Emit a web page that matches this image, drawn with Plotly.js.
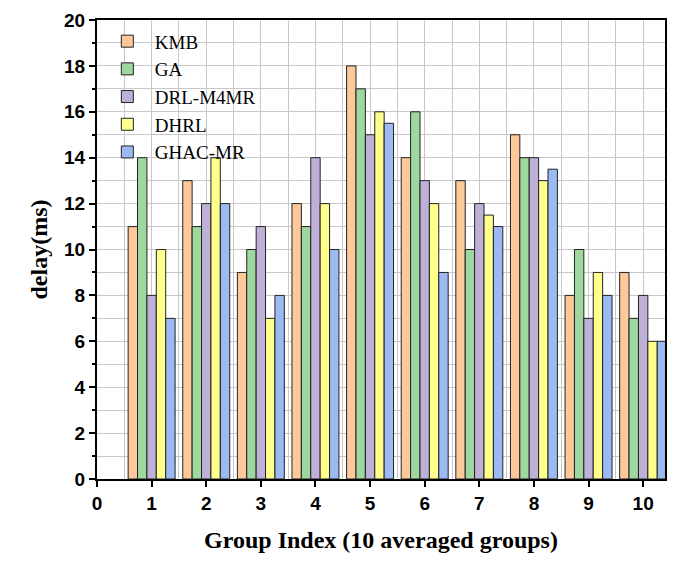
<!DOCTYPE html>
<html><head><meta charset="utf-8">
<script src="https://cdn.plot.ly/plotly-3.0.1.min.js"></script>
<style>body{margin:0;background:#fff}</style>
</head><body>
<div id="chart" style="width:675px;height:569px"></div>
<script>
const groups = [1, 2, 3, 4, 5, 6, 7, 8, 9, 10];
const methods = ['KMB', 'GA', 'DRL-M4MR', 'DHRL', 'GHAC-MR'];
const colors = ['#FDC89A', '#9ED89E', '#BFB0D8', '#FFFF8C', '#9CBAF2'];
const kmb  = [11, 13, 9, 12, 18, 14, 13, 15, 8, 9];
const ga   = [14, 11, 10, 11, 17, 16, 10, 14, 10, 7];
const drl  = [8, 12, 11, 14, 15, 13, 12, 14, 7, 8];
const dhrl = [10, 14, 7, 12, 16, 12, 11.5, 13, 9, 6];
const ghac = [7, 12, 8, 10, 15.5, 9, 11, 13.5, 8, 6];
const series = [kmb, ga, drl, dhrl, ghac];
const xTicks = [0, 1, 2, 3, 4, 5, 6, 7, 8, 9, 10];

const traces = series.map((vals, i) => ({
    type: 'bar', name: methods[i], x: groups, y: vals,
    marker: { color: colors[i], line: { color: '#222', width: 1 } },
}));

const axisFont = { family: 'Liberation Sans, Arial', size: 19, color: '#000', weight: 'bold' };
Plotly.newPlot('chart', traces, {
    width: 675, height: 569,
    margin: { l: 97, r: 10, t: 20, b: 90 },
    paper_bgcolor: '#fff', plot_bgcolor: '#fff',
    barmode: 'group', bargap: 0.14, bargroupgap: 0,
    showlegend: true,
    legend: {
        x: 0.005, y: 0.995, xanchor: 'left', yanchor: 'top',
        bgcolor: 'rgba(0,0,0,0)', tracegroupgap: 0,
        font: { family: 'Liberation Serif, serif', size: 19, color: '#000' },
        itemwidth: 45,
    },
    xaxis: {
        range: [0, 10.4], tickvals: xTicks, ticktext: xTicks.map(String),
        tickfont: axisFont,
        ticks: 'outside', ticklen: 6, tickwidth: 1.5, tickcolor: '#000',
        showline: true, linecolor: '#000', linewidth: 2, mirror: true,
        showgrid: true, gridcolor: '#c8c8c8',
        minor: { dtick: 0.5, tick0: 0, showgrid: true, gridcolor: '#c8c8c8' },
        zeroline: false,
        title: { text: '<b>Group Index (10 averaged groups)</b>', font: { family: 'Liberation Serif, serif', size: 24, color: '#000' }, standoff: 18 },
    },
    yaxis: {
        range: [0, 20], dtick: 2,
        tickfont: axisFont,
        ticks: 'outside', ticklen: 6, tickwidth: 1.5, tickcolor: '#000',
        showline: true, linecolor: '#000', linewidth: 2, mirror: true,
        showgrid: true, gridcolor: '#c8c8c8',
        minor: { dtick: 1, showgrid: true, gridcolor: '#c8c8c8', ticks: 'outside', ticklen: 3, tickcolor: '#000' },
        zeroline: false,
        title: { text: '<b>delay(ms)</b>', font: { family: 'Liberation Serif, serif', size: 24, color: '#000' }, standoff: 10 },
    },
}, { displayModeBar: false });
</script>
</body></html>
